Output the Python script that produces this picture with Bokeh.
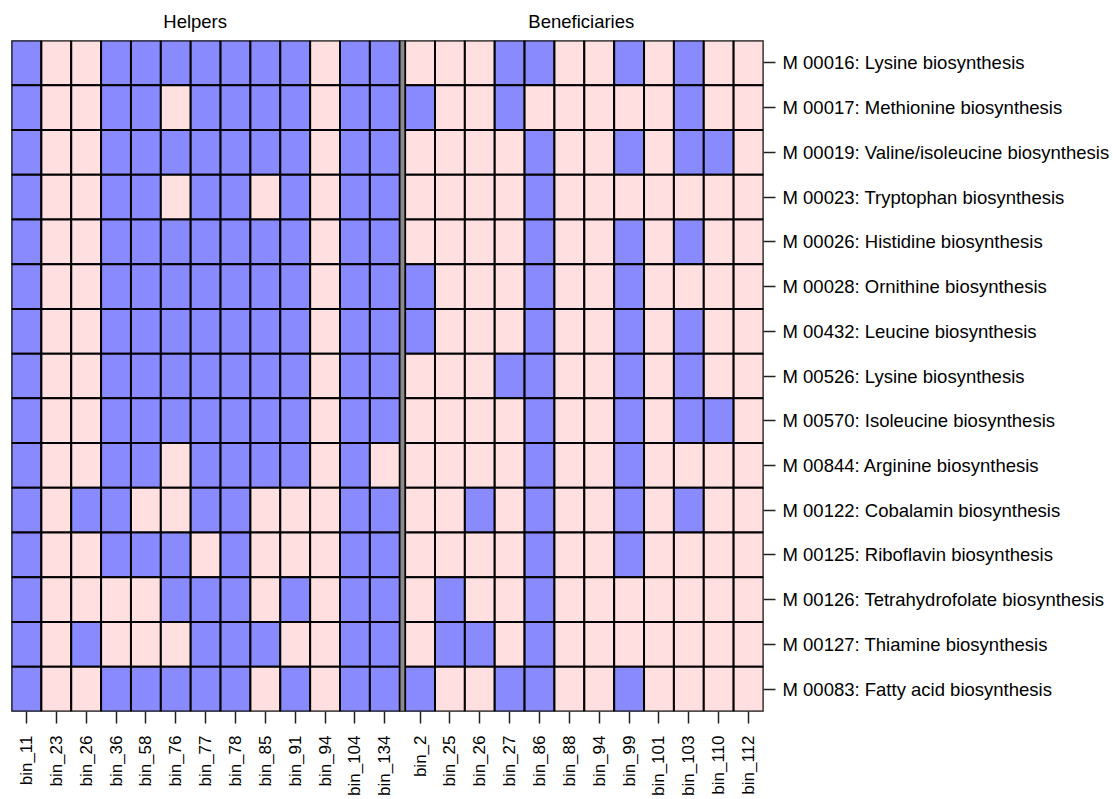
import numpy as np
from bokeh.plotting import figure
from bokeh.models import Range1d, LinearAxis, FixedTicker, ColumnDataSource
from bokeh.embed import file_html
from bokeh.resources import INLINE

# ---------------- data ----------------
helpers = ["bin_11", "bin_23", "bin_26", "bin_36", "bin_58", "bin_76", "bin_77",
           "bin_78", "bin_85", "bin_91", "bin_94", "bin_104", "bin_134"]
beneficiaries = ["bin_2", "bin_25", "bin_26", "bin_27", "bin_86", "bin_88", "bin_94",
                 "bin_99", "bin_101", "bin_103", "bin_110", "bin_112"]
modules = [
    "M 00016: Lysine biosynthesis",
    "M 00017: Methionine biosynthesis",
    "M 00019: Valine/isoleucine biosynthesis",
    "M 00023: Tryptophan biosynthesis",
    "M 00026: Histidine biosynthesis",
    "M 00028: Ornithine biosynthesis",
    "M 00432: Leucine biosynthesis",
    "M 00526: Lysine biosynthesis",
    "M 00570: Isoleucine biosynthesis",
    "M 00844: Arginine biosynthesis",
    "M 00122: Cobalamin biosynthesis",
    "M 00125: Riboflavin biosynthesis",
    "M 00126: Tetrahydrofolate biosynthesis",
    "M 00127: Thiamine biosynthesis",
    "M 00083: Fatty acid biosynthesis",
]
# 1 = module complete (blue), 0 = incomplete (pink); one row per module
helpers_presence = [
    [1, 0, 0, 1, 1, 1, 1, 1, 1, 1, 0, 1, 1],
    [1, 0, 0, 1, 1, 0, 1, 1, 1, 1, 0, 1, 1],
    [1, 0, 0, 1, 1, 1, 1, 1, 1, 1, 0, 1, 1],
    [1, 0, 0, 1, 1, 0, 1, 1, 0, 1, 0, 1, 1],
    [1, 0, 0, 1, 1, 1, 1, 1, 1, 1, 0, 1, 1],
    [1, 0, 0, 1, 1, 1, 1, 1, 1, 1, 0, 1, 1],
    [1, 0, 0, 1, 1, 1, 1, 1, 1, 1, 0, 1, 1],
    [1, 0, 0, 1, 1, 1, 1, 1, 1, 1, 0, 1, 1],
    [1, 0, 0, 1, 1, 1, 1, 1, 1, 1, 0, 1, 1],
    [1, 0, 0, 1, 1, 0, 1, 1, 1, 1, 0, 1, 0],
    [1, 0, 1, 1, 0, 0, 1, 1, 0, 0, 0, 1, 1],
    [1, 0, 0, 1, 1, 1, 0, 1, 0, 0, 0, 1, 1],
    [1, 0, 0, 0, 0, 1, 1, 1, 0, 1, 0, 1, 1],
    [1, 0, 1, 0, 0, 0, 1, 1, 1, 0, 0, 1, 1],
    [1, 0, 0, 1, 1, 1, 1, 1, 0, 1, 0, 1, 1],
]
beneficiaries_presence = [
    [0, 0, 0, 1, 1, 0, 0, 1, 0, 1, 0, 0],
    [1, 0, 0, 1, 0, 0, 0, 0, 0, 1, 0, 0],
    [0, 0, 0, 0, 1, 0, 0, 1, 0, 1, 1, 0],
    [0, 0, 0, 0, 1, 0, 0, 0, 0, 0, 0, 0],
    [0, 0, 0, 0, 1, 0, 0, 1, 0, 1, 0, 0],
    [1, 0, 0, 0, 1, 0, 0, 1, 0, 0, 0, 0],
    [1, 0, 0, 0, 1, 0, 0, 1, 0, 1, 0, 0],
    [0, 0, 0, 1, 1, 0, 0, 1, 0, 1, 0, 0],
    [0, 0, 0, 0, 1, 0, 0, 1, 0, 1, 1, 0],
    [0, 0, 0, 0, 1, 0, 0, 1, 0, 0, 0, 0],
    [0, 0, 1, 0, 1, 0, 0, 1, 0, 1, 0, 0],
    [0, 0, 0, 0, 1, 0, 0, 1, 0, 0, 0, 0],
    [0, 1, 0, 0, 1, 0, 0, 0, 0, 0, 0, 0],
    [0, 1, 1, 0, 1, 0, 0, 0, 0, 0, 0, 0],
    [1, 0, 0, 1, 1, 0, 0, 1, 0, 0, 0, 0],
]
group_titles = ["Helpers", "Beneficiaries"]

# ---------------- style ----------------
BLUE = "#8A8AFF"
PINK = "#FFDFDF"
FONT = "Liberation Sans"
FSIZE = "18.5px"
GAP = 0.18  # blank space between the two blocks, in column units

n_rows = len(modules)
n_h = len(helpers)
n_b = len(beneficiaries)

hx = [float(i) for i in range(n_h)]
bx = [round(n_h + GAP + j, 3) for j in range(n_b)]
row_y = [float(n_rows - 1 - k) for k in range(n_rows)]

xs, ys, cols = [], [], []
for k in range(n_rows):
    for i in range(n_h):
        xs.append(hx[i]); ys.append(row_y[k])
        cols.append(BLUE if helpers_presence[k][i] else PINK)
    for j in range(n_b):
        xs.append(bx[j]); ys.append(row_y[k])
        cols.append(BLUE if beneficiaries_presence[k][j] else PINK)
src = ColumnDataSource(dict(x=xs, y=ys, color=cols))

x_lo = hx[0] - 0.5
x_hi = bx[-1] + 0.5
p = figure(frame_width=752, frame_height=671,
           x_range=Range1d(x_lo, x_hi), y_range=Range1d(-0.5, n_rows - 0.5),
           x_axis_location=None, y_axis_location=None,
           toolbar_location=None, output_backend="svg",
           min_border_left=11, min_border_top=40, min_border_right=0, min_border_bottom=0)
p.outline_line_color = "#888888"
p.outline_line_width = 1
p.background_fill_color = "white"
p.border_fill_color = "white"

p.rect(x="x", y="y", width=1, height=1, fill_color="color", line_color="black",
       line_width=2, source=src)
# separator between the two blocks
p.quad(left=hx[-1] + 0.5, right=bx[0] - 0.5, bottom=-0.5, top=n_rows - 0.5,
       fill_color="#8a8a8a", line_color="black", line_width=1.5)

# bottom axis: bin names
xb = LinearAxis(ticker=FixedTicker(ticks=hx + bx),
                major_label_overrides={**{x: n for x, n in zip(hx, helpers)},
                                       **{x: n for x, n in zip(bx, beneficiaries)}},
                major_label_orientation=np.pi / 2,
                major_tick_out=12, major_tick_in=0, major_tick_line_color="#222222",
                major_tick_line_width=1.5, minor_tick_out=0, minor_tick_in=0,
                axis_line_color=None, major_label_standoff=12,
                major_label_text_font=FONT, major_label_text_font_size="17px",
                major_label_text_color="black")
p.add_layout(xb, "below")

# right axis: module names
yr = LinearAxis(ticker=FixedTicker(ticks=row_y),
                major_label_overrides={y: m for y, m in zip(row_y, modules)},
                major_tick_out=12, major_tick_in=0, major_tick_line_color="#222222",
                major_tick_line_width=1.5, minor_tick_out=0, minor_tick_in=0,
                axis_line_color=None, major_label_standoff=7,
                major_label_text_font=FONT, major_label_text_font_size=FSIZE,
                major_label_text_color="black")
p.add_layout(yr, "right")

# top axis: group titles
title_x = [round((hx[0] + hx[-1]) / 2 - 0.35, 3), round((bx[0] + bx[-1]) / 2 - 0.1, 3)]
xt = LinearAxis(ticker=FixedTicker(ticks=title_x),
                major_label_overrides={x: t for x, t in zip(title_x, group_titles)},
                major_tick_out=0, major_tick_in=0, minor_tick_out=0, minor_tick_in=0,
                axis_line_color=None, major_label_standoff=9,
                major_label_text_font=FONT, major_label_text_font_size=FSIZE,
                major_label_text_color="black")
p.add_layout(xt, "above")

open("out.html", "w").write(file_html(p, INLINE))
